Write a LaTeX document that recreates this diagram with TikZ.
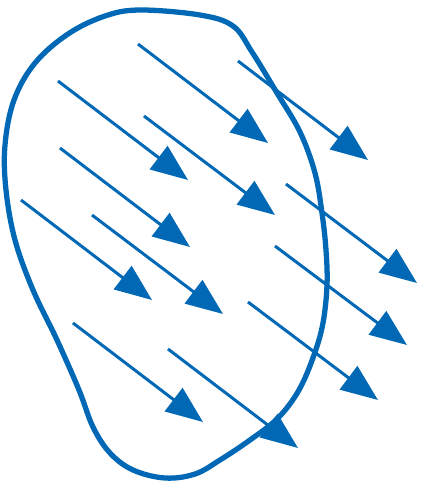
\documentclass[tikz,border=0pt]{standalone}
\definecolor{fieldblue}{RGB}{0,104,180}
\usepackage{tikz}
\usetikzlibrary{arrows.meta}

\begin{document}
\begin{tikzpicture}[
      x=0.02cm, y=-0.02cm,
      region/.style={
          draw=fieldblue,
          line width=3pt,
          line join=round
        },
      fieldline/.style={
          draw=fieldblue,
          line width=1.7pt,
          -{Triangle[length=0.74cm, width=0.58cm]}
        }
    ]
    \useasboundingbox (0,0) rectangle (423,485);

    % closed surface
    \draw[region] plot[smooth cycle, tension=0.6] coordinates {
        (140,10) (200,15) (233,26) (252,52) (277,93) (300,132) (315,173)
        (322,213) (326,250) (327,285) (323,323) (314,355) (299,390)
        (278,418) (250,440) (220,460) (195,474) (165,478) (133,470)
        (110,453) (93,427) (79,390) (57,340) (33,290) (15,240) (6,190)
        (5,145) (14,100) (35,63) (68,34) (105,16)};

    % field arrows
    \foreach \sx/\sy/\ex/\ey in {
        138/44/268/143, 238/61/368/160, 58/81/188/180, 144/116/275/215,
        60/148/190/247, 286/184/417/283, 21/200/152/300, 92/215/223/314,
        275/246/407/345, 248/302/378/400, 73/323/203/422, 168/349/298/448}
      \draw[fieldline] (\sx,\sy) -- (\ex,\ey);
  \end{tikzpicture}
\end{document}
